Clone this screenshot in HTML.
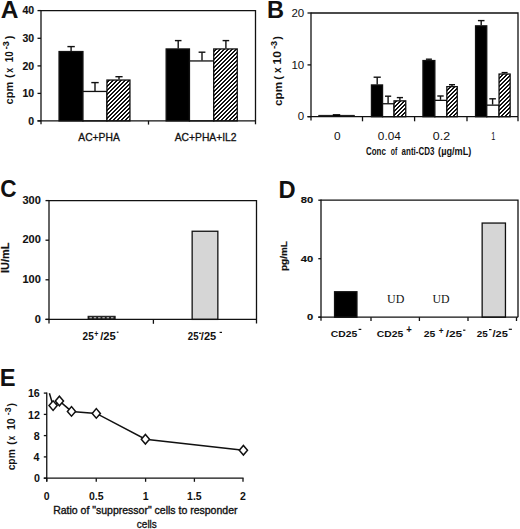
<!DOCTYPE html>
<html><head><meta charset="utf-8"><style>
html,body{margin:0;padding:0;background:#fff;}
svg{display:block;}
text{fill:#111;}
</style></head><body>
<svg width="520" height="529" viewBox="0 0 520 529">
<defs>
<pattern id="hatch" patternUnits="userSpaceOnUse" x="0" y="0" width="4" height="4"><rect width="4" height="4" fill="#fff"/><rect x="0" y="0" width="1" height="1" fill="#111"/><rect x="1" y="0" width="1" height="1" fill="#111"/><rect x="3" y="1" width="1" height="1" fill="#111"/><rect x="0" y="1" width="1" height="1" fill="#111"/><rect x="2" y="2" width="1" height="1" fill="#111"/><rect x="3" y="2" width="1" height="1" fill="#111"/><rect x="1" y="3" width="1" height="1" fill="#111"/><rect x="2" y="3" width="1" height="1" fill="#111"/></pattern>
</defs>
<rect width="520" height="529" fill="#fff"/>
<text x="0.64" y="18.35" font-family="Liberation Sans" font-size="24.5" font-weight="bold">A</text>
<rect x="59.05" y="51.55" width="23.90" height="69.35" fill="#000" stroke="#111" stroke-width="1.3"/>
<line x1="71.1" y1="51" x2="71.1" y2="46.6" stroke="#111" stroke-width="1.4"/>
<line x1="67.39999999999999" y1="46.6" x2="74.8" y2="46.6" stroke="#111" stroke-width="1.4"/>
<rect x="82.95" y="91.45" width="24.00" height="29.45" fill="#fff" stroke="#111" stroke-width="1.3"/>
<line x1="95" y1="90.9" x2="95" y2="82.6" stroke="#111" stroke-width="1.4"/>
<line x1="91.3" y1="82.6" x2="98.7" y2="82.6" stroke="#111" stroke-width="1.4"/>
<rect x="106.95" y="80.05" width="23.00" height="40.85" fill="url(#hatch)" stroke="#111" stroke-width="1.3"/>
<line x1="119" y1="79.5" x2="119" y2="76.7" stroke="#111" stroke-width="1.4"/>
<line x1="115.4" y1="76.7" x2="122.6" y2="76.7" stroke="#111" stroke-width="1.4"/>
<rect x="166.15" y="48.949999999999996" width="23.30" height="71.95" fill="#000" stroke="#111" stroke-width="1.3"/>
<line x1="178.2" y1="48.4" x2="178.2" y2="40.6" stroke="#111" stroke-width="1.4"/>
<line x1="174.89999999999998" y1="40.6" x2="181.5" y2="40.6" stroke="#111" stroke-width="1.4"/>
<rect x="189.45" y="60.949999999999996" width="24.30" height="59.95" fill="#fff" stroke="#111" stroke-width="1.3"/>
<line x1="202" y1="60.4" x2="202" y2="52.2" stroke="#111" stroke-width="1.4"/>
<line x1="198.6" y1="52.2" x2="205.4" y2="52.2" stroke="#111" stroke-width="1.4"/>
<rect x="213.75" y="48.949999999999996" width="23.50" height="71.95" fill="url(#hatch)" stroke="#111" stroke-width="1.3"/>
<line x1="225.9" y1="48.4" x2="225.9" y2="40.6" stroke="#111" stroke-width="1.4"/>
<line x1="222.6" y1="40.6" x2="229.20000000000002" y2="40.6" stroke="#111" stroke-width="1.4"/>
<path d="M41 10.6H255.5V120.9" fill="none" stroke="#111" stroke-width="1.3"/>
<line x1="41" y1="10.0" x2="41" y2="124.3" stroke="#111" stroke-width="1.3"/>
<line x1="37.5" y1="120.9" x2="255.5" y2="120.9" stroke="#111" stroke-width="1.3"/>
<line x1="37.5" y1="10.6" x2="41" y2="10.6" stroke="#111" stroke-width="1.3"/>
<text x="22.41" y="14.22" font-family="Liberation Sans" font-size="10.5" font-weight="bold" stroke="#111" stroke-width="0.15">40</text>
<line x1="37.5" y1="38.3" x2="41" y2="38.3" stroke="#111" stroke-width="1.3"/>
<text x="22.41" y="41.92" font-family="Liberation Sans" font-size="10.5" font-weight="bold" stroke="#111" stroke-width="0.15">30</text>
<line x1="37.5" y1="65.9" x2="41" y2="65.9" stroke="#111" stroke-width="1.3"/>
<text x="22.41" y="69.52" font-family="Liberation Sans" font-size="10.5" font-weight="bold" stroke="#111" stroke-width="0.15">20</text>
<line x1="37.5" y1="93.4" x2="41" y2="93.4" stroke="#111" stroke-width="1.3"/>
<text x="22.41" y="97.02" font-family="Liberation Sans" font-size="10.5" font-weight="bold" stroke="#111" stroke-width="0.15">10</text>
<line x1="37.5" y1="120.9" x2="41" y2="120.9" stroke="#111" stroke-width="1.3"/>
<text x="28.24" y="124.52" font-family="Liberation Sans" font-size="10.5" font-weight="bold" stroke="#111" stroke-width="0.15">0</text>
<line x1="148.5" y1="120.9" x2="148.5" y2="124.6" stroke="#111" stroke-width="1.3"/>
<line x1="255.5" y1="120.9" x2="255.5" y2="124.3" stroke="#111" stroke-width="1.3"/>
<text x="78.30" y="141.2" font-family="Liberation Sans" font-size="10.5" font-weight="normal" textLength="41.45" lengthAdjust="spacingAndGlyphs" stroke="#111" stroke-width="0.3">AC+PHA</text>
<text x="174.70" y="141.2" font-family="Liberation Sans" font-size="10.5" font-weight="normal" textLength="61.85" lengthAdjust="spacingAndGlyphs" stroke="#111" stroke-width="0.3">AC+PHA+IL2</text>
<text transform="translate(13.4,104.40) rotate(-90)" x="0" y="0" font-family="Liberation Sans" font-size="11" font-weight="bold">cpm</text>
<text transform="translate(13.4,77.89) rotate(-90)" x="0" y="0" font-family="Liberation Sans" font-size="11" font-weight="bold">(</text>
<text transform="translate(13.3,72.64) rotate(-90)" x="0" y="0" font-family="Liberation Sans" font-size="11" font-weight="bold" textLength="4.84" lengthAdjust="spacingAndGlyphs">x</text>
<text transform="translate(13.2,62.24) rotate(-90)" x="0" y="0" font-family="Liberation Sans" font-size="11" font-weight="bold" textLength="10.90" lengthAdjust="spacingAndGlyphs">10</text>
<text transform="translate(8.6,49.26) rotate(-90)" x="0" y="0" font-family="Liberation Sans" font-size="9.5" font-weight="bold" textLength="7.96" lengthAdjust="spacingAndGlyphs" stroke="#111" stroke-width="0.1">-3</text>
<text transform="translate(13.3,39.17) rotate(-90)" x="0" y="0" font-family="Liberation Sans" font-size="11" font-weight="bold">)</text>
<text x="266.92" y="18.35" font-family="Liberation Sans" font-size="24.5" font-weight="bold" textLength="17.05" lengthAdjust="spacingAndGlyphs">B</text>
<rect x="318.7" y="115.2" width="35.80" height="1.50" fill="#000" stroke="#111" stroke-width="0.6"/>
<rect x="333" y="114.2" width="7.00" height="2.50" fill="#000" stroke="#111" stroke-width="0.4"/>
<rect x="371.45" y="84.95" width="11.10" height="31.75" fill="#000" stroke="#111" stroke-width="1.3"/>
<line x1="377.2" y1="84.4" x2="377.2" y2="77.2" stroke="#111" stroke-width="1.4"/>
<line x1="373.59999999999997" y1="77.2" x2="380.8" y2="77.2" stroke="#111" stroke-width="1.4"/>
<rect x="382.55" y="103.75" width="11.50" height="12.95" fill="#fff" stroke="#111" stroke-width="1.3"/>
<line x1="388.1" y1="103.2" x2="388.1" y2="96.2" stroke="#111" stroke-width="1.4"/>
<line x1="385.0" y1="96.2" x2="391.20000000000005" y2="96.2" stroke="#111" stroke-width="1.4"/>
<rect x="394.05" y="100.85" width="11.70" height="15.85" fill="url(#hatch)" stroke="#111" stroke-width="1.3"/>
<line x1="399.9" y1="100.3" x2="399.9" y2="97.6" stroke="#111" stroke-width="1.4"/>
<line x1="396.79999999999995" y1="97.6" x2="403.0" y2="97.6" stroke="#111" stroke-width="1.4"/>
<rect x="422.95" y="60.55" width="11.90" height="56.15" fill="#000" stroke="#111" stroke-width="1.3"/>
<line x1="428.9" y1="60" x2="428.9" y2="59.2" stroke="#111" stroke-width="1.4"/>
<line x1="425.9" y1="59.2" x2="431.9" y2="59.2" stroke="#111" stroke-width="1.4"/>
<rect x="434.84999999999997" y="100.35" width="12.00" height="16.35" fill="#fff" stroke="#111" stroke-width="1.3"/>
<line x1="440.5" y1="99.8" x2="440.5" y2="96" stroke="#111" stroke-width="1.4"/>
<line x1="437.3" y1="96" x2="443.7" y2="96" stroke="#111" stroke-width="1.4"/>
<rect x="446.85" y="86.64999999999999" width="10.40" height="30.05" fill="url(#hatch)" stroke="#111" stroke-width="1.3"/>
<line x1="452" y1="86.1" x2="452" y2="84.7" stroke="#111" stroke-width="1.4"/>
<line x1="449.0" y1="84.7" x2="455.0" y2="84.7" stroke="#111" stroke-width="1.4"/>
<rect x="475.55" y="25.85" width="11.20" height="90.85" fill="#000" stroke="#111" stroke-width="1.3"/>
<line x1="481.2" y1="25.3" x2="481.2" y2="20.6" stroke="#111" stroke-width="1.4"/>
<line x1="477.9" y1="20.6" x2="484.5" y2="20.6" stroke="#111" stroke-width="1.4"/>
<rect x="486.75" y="105.14999999999999" width="12.30" height="11.55" fill="#fff" stroke="#111" stroke-width="1.3"/>
<line x1="492.6" y1="104.6" x2="492.6" y2="98.8" stroke="#111" stroke-width="1.4"/>
<line x1="489.3" y1="98.8" x2="495.90000000000003" y2="98.8" stroke="#111" stroke-width="1.4"/>
<rect x="499.05" y="74.05" width="11.10" height="42.65" fill="url(#hatch)" stroke="#111" stroke-width="1.3"/>
<line x1="504.6" y1="73.5" x2="504.6" y2="72.6" stroke="#111" stroke-width="1.4"/>
<line x1="501.6" y1="72.6" x2="507.6" y2="72.6" stroke="#111" stroke-width="1.4"/>
<path d="M311 13H518V116.7" fill="none" stroke="#111" stroke-width="1.3"/>
<line x1="311" y1="12.4" x2="311" y2="120.5" stroke="#111" stroke-width="1.3"/>
<line x1="307.5" y1="116.7" x2="518" y2="116.7" stroke="#111" stroke-width="1.3"/>
<line x1="307.5" y1="13" x2="311" y2="13" stroke="#111" stroke-width="1.3"/>
<text x="291.39" y="16.67" font-family="Liberation Sans" font-size="11.5" font-weight="normal">20</text>
<line x1="307.5" y1="64.9" x2="311" y2="64.9" stroke="#111" stroke-width="1.3"/>
<text x="291.39" y="68.57" font-family="Liberation Sans" font-size="11.5" font-weight="normal">10</text>
<line x1="307.5" y1="116.7" x2="311" y2="116.7" stroke="#111" stroke-width="1.3"/>
<text x="297.77" y="120.37" font-family="Liberation Sans" font-size="11.5" font-weight="normal">0</text>
<line x1="362.5" y1="116.7" x2="362.5" y2="121.3" stroke="#111" stroke-width="1.3"/>
<line x1="414.6" y1="116.7" x2="414.6" y2="121.3" stroke="#111" stroke-width="1.3"/>
<line x1="467" y1="116.7" x2="467" y2="121.3" stroke="#111" stroke-width="1.3"/>
<line x1="518" y1="116.7" x2="518" y2="121.3" stroke="#111" stroke-width="1.3"/>
<text x="334.07" y="140" font-family="Liberation Sans" font-size="10" font-weight="normal" textLength="6.60" lengthAdjust="spacingAndGlyphs">0</text>
<text x="377.88" y="140" font-family="Liberation Sans" font-size="10" font-weight="normal" textLength="22.94" lengthAdjust="spacingAndGlyphs">0.04</text>
<text x="432.85" y="140" font-family="Liberation Sans" font-size="10" font-weight="normal" textLength="17.22" lengthAdjust="spacingAndGlyphs">0.2</text>
<text x="491.30" y="140" font-family="Liberation Sans" font-size="10" font-weight="normal" textLength="4.09" lengthAdjust="spacingAndGlyphs">1</text>
<text x="366.03" y="154.5" font-family="Liberation Sans" font-size="10.5" font-weight="bold" textLength="19.86" lengthAdjust="spacingAndGlyphs">Conc</text>
<text x="390.78" y="154.5" font-family="Liberation Sans" font-size="10.5" font-weight="bold" textLength="6.47" lengthAdjust="spacingAndGlyphs">of</text>
<text x="401.61" y="154.5" font-family="Liberation Sans" font-size="10.5" font-weight="bold" textLength="32.73" lengthAdjust="spacingAndGlyphs">anti-CD3</text>
<text x="438.09" y="154.5" font-family="Liberation Sans" font-size="10.5" font-weight="bold" textLength="33.28" lengthAdjust="spacingAndGlyphs">(µg/mL)</text>
<text transform="translate(281.9,105.92) rotate(-90)" x="0" y="0" font-family="Liberation Sans" font-size="11.3" font-weight="bold" textLength="23.98" lengthAdjust="spacingAndGlyphs">cpm</text>
<text transform="translate(281.6,79.74) rotate(-90)" x="0" y="0" font-family="Liberation Sans" font-size="11" font-weight="bold">(</text>
<text transform="translate(281.2,72.95) rotate(-90)" x="0" y="0" font-family="Liberation Sans" font-size="11" font-weight="bold" textLength="5.56" lengthAdjust="spacingAndGlyphs">x</text>
<text transform="translate(280.6,64.47) rotate(-90)" x="0" y="0" font-family="Liberation Sans" font-size="11" font-weight="bold" textLength="13.44" lengthAdjust="spacingAndGlyphs">10</text>
<text transform="translate(277.1,48.86) rotate(-90)" x="0" y="0" font-family="Liberation Sans" font-size="9.5" font-weight="bold" textLength="7.96" lengthAdjust="spacingAndGlyphs" stroke="#111" stroke-width="0.1">-3</text>
<text transform="translate(281.2,39.67) rotate(-90)" x="0" y="0" font-family="Liberation Sans" font-size="11" font-weight="bold">)</text>
<text x="0.35" y="197.2" font-family="Liberation Sans" font-size="24.5" font-weight="bold" textLength="16.32" lengthAdjust="spacingAndGlyphs">C</text>
<rect x="88" y="316.2" width="27.20" height="3.20" fill="#222" stroke="#111" stroke-width="0.8"/>
<rect x="89.5" y="317.3" width="2.4" height="1" fill="#ddd"/>
<rect x="93.8" y="317.3" width="2.4" height="1" fill="#ddd"/>
<rect x="98.1" y="317.3" width="2.4" height="1" fill="#ddd"/>
<rect x="102.4" y="317.3" width="2.4" height="1" fill="#ddd"/>
<rect x="106.7" y="317.3" width="2.4" height="1" fill="#ddd"/>
<rect x="111.0" y="317.3" width="2.4" height="1" fill="#ddd"/>
<rect x="192.15" y="231.25" width="25.70" height="88.15" fill="#d6d6d6" stroke="#111" stroke-width="1.3"/>
<path d="M49 200.6H256.5V323.4" fill="none" stroke="#111" stroke-width="1.3"/>
<line x1="49" y1="200.0" x2="49" y2="323.5" stroke="#111" stroke-width="1.3"/>
<line x1="45.5" y1="319.4" x2="256.5" y2="319.4" stroke="#111" stroke-width="1.3"/>
<line x1="45.5" y1="200.6" x2="49" y2="200.6" stroke="#111" stroke-width="1.3"/>
<text x="22.49" y="203.79" font-family="Liberation Sans" font-size="10.4" font-weight="bold" textLength="18.39" lengthAdjust="spacingAndGlyphs" stroke="#111" stroke-width="0.1">300</text>
<line x1="45.5" y1="240.2" x2="49" y2="240.2" stroke="#111" stroke-width="1.3"/>
<text x="22.49" y="243.39" font-family="Liberation Sans" font-size="10.4" font-weight="bold" textLength="18.39" lengthAdjust="spacingAndGlyphs" stroke="#111" stroke-width="0.1">200</text>
<line x1="45.5" y1="279.8" x2="49" y2="279.8" stroke="#111" stroke-width="1.3"/>
<text x="22.49" y="282.99" font-family="Liberation Sans" font-size="10.4" font-weight="bold" textLength="18.39" lengthAdjust="spacingAndGlyphs" stroke="#111" stroke-width="0.1">100</text>
<line x1="45.5" y1="319.4" x2="49" y2="319.4" stroke="#111" stroke-width="1.3"/>
<text x="34.72" y="322.59" font-family="Liberation Sans" font-size="10.4" font-weight="bold" textLength="6.13" lengthAdjust="spacingAndGlyphs" stroke="#111" stroke-width="0.1">0</text>
<line x1="153.4" y1="319.4" x2="153.4" y2="323.8" stroke="#111" stroke-width="1.3"/>
<text x="82.60" y="340.04" font-family="Liberation Sans" font-size="10.56" font-weight="bold" textLength="11.12" lengthAdjust="spacingAndGlyphs">25</text>
<text x="94.36" y="336.57" font-family="Liberation Sans" font-size="9.61" font-weight="bold" textLength="4.16" lengthAdjust="spacingAndGlyphs">+</text>
<text x="100.24" y="340.04" font-family="Liberation Sans" font-size="10.56" font-weight="bold" textLength="15.59" lengthAdjust="spacingAndGlyphs">/25</text>
<line x1="116.8" y1="332.2" x2="118.5" y2="332.2" stroke="#111" stroke-width="1.2"/>
<text x="187.81" y="340.05" font-family="Liberation Sans" font-size="10.0" font-weight="bold" textLength="10.70" lengthAdjust="spacingAndGlyphs">25</text>
<line x1="199" y1="333.3" x2="201.4" y2="333.3" stroke="#111" stroke-width="1.2"/>
<text x="200.84" y="340.05" font-family="Liberation Sans" font-size="10.0" font-weight="bold" textLength="15.39" lengthAdjust="spacingAndGlyphs">/25</text>
<line x1="219.6" y1="332.4" x2="222.0" y2="332.4" stroke="#111" stroke-width="1.2"/>
<text transform="translate(9.04,273.06) rotate(-90)" x="0" y="0" font-family="Liberation Sans" font-size="10.6" font-weight="bold" textLength="30.47" lengthAdjust="spacingAndGlyphs" stroke="#111" stroke-width="0.2">IU/mL</text>
<text x="278.41" y="197.55" font-family="Liberation Sans" font-size="24.5" font-weight="bold" textLength="17.14" lengthAdjust="spacingAndGlyphs">D</text>
<rect x="334.55" y="291.75" width="22.40" height="25.45" fill="#000" stroke="#111" stroke-width="1.3"/>
<rect x="482.15000000000003" y="223.05" width="23.30" height="94.15" fill="#d6d6d6" stroke="#111" stroke-width="1.3"/>
<path d="M321 200.2H518V317.2" fill="none" stroke="#111" stroke-width="1.3"/>
<line x1="321" y1="199.6" x2="321" y2="320.7" stroke="#111" stroke-width="1.3"/>
<line x1="318.3" y1="317.2" x2="518" y2="317.2" stroke="#111" stroke-width="1.3"/>
<line x1="318.3" y1="200.2" x2="321" y2="200.2" stroke="#111" stroke-width="1.3"/>
<text x="300.88" y="203.14" font-family="Liberation Sans" font-size="9.4" font-weight="bold" textLength="12.44" lengthAdjust="spacingAndGlyphs" stroke="#111" stroke-width="0.15">80</text>
<line x1="318.3" y1="258.7" x2="321" y2="258.7" stroke="#111" stroke-width="1.3"/>
<text x="300.88" y="261.64" font-family="Liberation Sans" font-size="9.4" font-weight="bold" textLength="12.44" lengthAdjust="spacingAndGlyphs" stroke="#111" stroke-width="0.15">40</text>
<line x1="318.3" y1="317.2" x2="321" y2="317.2" stroke="#111" stroke-width="1.3"/>
<text x="307.09" y="320.14" font-family="Liberation Sans" font-size="9.4" font-weight="bold" textLength="6.22" lengthAdjust="spacingAndGlyphs" stroke="#111" stroke-width="0.15">0</text>
<line x1="371" y1="317.2" x2="371" y2="321" stroke="#111" stroke-width="1.3"/>
<line x1="419.4" y1="317.2" x2="419.4" y2="321" stroke="#111" stroke-width="1.3"/>
<line x1="468" y1="317.2" x2="468" y2="321" stroke="#111" stroke-width="1.3"/>
<line x1="516.5" y1="317.2" x2="516.5" y2="321" stroke="#111" stroke-width="1.3"/>
<text x="387.01" y="302.83" font-family="Liberation Serif" font-size="12.48" font-weight="normal" textLength="17.31" lengthAdjust="spacingAndGlyphs">UD</text>
<text x="432.51" y="302.73" font-family="Liberation Serif" font-size="12.33" font-weight="normal" textLength="17.10" lengthAdjust="spacingAndGlyphs">UD</text>
<text x="330.84" y="336.76" font-family="Liberation Sans" font-size="9.44" font-weight="bold" textLength="26.39" lengthAdjust="spacingAndGlyphs">CD25</text>
<line x1="358.6" y1="329.4" x2="361.3" y2="329.4" stroke="#111" stroke-width="1.2"/>
<text x="376.84" y="336.76" font-family="Liberation Sans" font-size="9.44" font-weight="bold" textLength="26.39" lengthAdjust="spacingAndGlyphs">CD25</text>
<text x="406.17" y="332.86" font-family="Liberation Sans" font-size="10.78" font-weight="bold" textLength="5.55" lengthAdjust="spacingAndGlyphs">+</text>
<text x="423.79" y="336.76" font-family="Liberation Sans" font-size="9.08" font-weight="bold" textLength="11.55" lengthAdjust="spacingAndGlyphs">25</text>
<text x="438.77" y="333.66" font-family="Liberation Sans" font-size="9.41" font-weight="bold" textLength="4.80" lengthAdjust="spacingAndGlyphs">+</text>
<text x="445.73" y="336.76" font-family="Liberation Sans" font-size="9.08" font-weight="bold" textLength="16.52" lengthAdjust="spacingAndGlyphs">/25</text>
<line x1="463.1" y1="330.2" x2="465.4" y2="330.2" stroke="#111" stroke-width="1.2"/>
<text x="476.70" y="336.76" font-family="Liberation Sans" font-size="9.08" font-weight="bold" textLength="11.02" lengthAdjust="spacingAndGlyphs">25</text>
<line x1="489.0" y1="329.6" x2="491.5" y2="329.6" stroke="#111" stroke-width="1.2"/>
<text x="492.54" y="336.76" font-family="Liberation Sans" font-size="9.08" font-weight="bold" textLength="15.39" lengthAdjust="spacingAndGlyphs">/25</text>
<line x1="508.8" y1="329.3" x2="511.9" y2="329.3" stroke="#111" stroke-width="1.2"/>
<text transform="translate(286.81,271.00) rotate(-90)" x="0" y="0" font-family="Liberation Sans" font-size="8.77" font-weight="bold" textLength="29.94" lengthAdjust="spacingAndGlyphs" stroke="#111" stroke-width="0.2">pg/mL</text>
<text x="-0.29" y="386.45" font-family="Liberation Sans" font-size="24.5" font-weight="bold" textLength="15.82" lengthAdjust="spacingAndGlyphs">E</text>
<line x1="46.75" y1="392.5" x2="46.75" y2="481.5" stroke="#111" stroke-width="1.3"/>
<line x1="43.8" y1="478.2" x2="243.6" y2="478.2" stroke="#111" stroke-width="1.3"/>
<line x1="43.8" y1="393.1" x2="46.75" y2="393.1" stroke="#111" stroke-width="1.3"/>
<text x="27.93" y="397.25" font-family="Liberation Sans" font-size="10.3" font-weight="bold" textLength="11.92" lengthAdjust="spacingAndGlyphs">16</text>
<line x1="43.8" y1="414.4" x2="46.75" y2="414.4" stroke="#111" stroke-width="1.3"/>
<text x="27.99" y="418.61" font-family="Liberation Sans" font-size="10.3" font-weight="bold" textLength="11.92" lengthAdjust="spacingAndGlyphs">12</text>
<line x1="43.8" y1="435.6" x2="46.75" y2="435.6" stroke="#111" stroke-width="1.3"/>
<text x="33.83" y="439.75" font-family="Liberation Sans" font-size="10.3" font-weight="bold" textLength="5.96" lengthAdjust="spacingAndGlyphs">8</text>
<line x1="43.8" y1="456.9" x2="46.75" y2="456.9" stroke="#111" stroke-width="1.3"/>
<text x="33.56" y="461.05" font-family="Liberation Sans" font-size="10.3" font-weight="bold" textLength="5.96" lengthAdjust="spacingAndGlyphs">4</text>
<line x1="43.8" y1="478.2" x2="46.75" y2="478.2" stroke="#111" stroke-width="1.3"/>
<text x="33.93" y="482.35" font-family="Liberation Sans" font-size="10.3" font-weight="bold" textLength="5.96" lengthAdjust="spacingAndGlyphs">0</text>
<line x1="46.75" y1="478.2" x2="46.75" y2="481.8" stroke="#111" stroke-width="1.3"/>
<text x="46.75" y="500.2" font-family="Liberation Sans" font-size="10.5" font-weight="bold" text-anchor="middle" >0</text>
<line x1="96.25" y1="478.2" x2="96.25" y2="481.8" stroke="#111" stroke-width="1.3"/>
<text x="96.25" y="500.2" font-family="Liberation Sans" font-size="10.5" font-weight="bold" text-anchor="middle" >0.5</text>
<line x1="145.6" y1="478.2" x2="145.6" y2="481.8" stroke="#111" stroke-width="1.3"/>
<text x="145.6" y="500.2" font-family="Liberation Sans" font-size="10.5" font-weight="bold" text-anchor="middle" >1</text>
<line x1="194.4" y1="478.2" x2="194.4" y2="481.8" stroke="#111" stroke-width="1.3"/>
<text x="194.4" y="500.2" font-family="Liberation Sans" font-size="10.5" font-weight="bold" text-anchor="middle" >1.5</text>
<line x1="243" y1="478.2" x2="243" y2="481.8" stroke="#111" stroke-width="1.3"/>
<text x="243" y="500.2" font-family="Liberation Sans" font-size="10.5" font-weight="bold" text-anchor="middle" >2</text>
<path d="M49.4 393.3 L53.1 405.6 L59.4 401 L71.5 411.4 L96.3 413.4 L145.4 439.2 L243.4 450.2" fill="none" stroke="#111" stroke-width="1.5"/>
<path d="M49.0 405.6L53.1 400.8L57.2 405.6L53.1 410.40000000000003Z" fill="#fff" stroke="#111" stroke-width="1.5"/>
<path d="M55.3 401L59.4 396.2L63.5 401L59.4 405.8Z" fill="#fff" stroke="#111" stroke-width="1.5"/>
<path d="M67.4 411.4L71.5 406.59999999999997L75.6 411.4L71.5 416.2Z" fill="#fff" stroke="#111" stroke-width="1.5"/>
<path d="M92.2 413.4L96.3 408.59999999999997L100.39999999999999 413.4L96.3 418.2Z" fill="#fff" stroke="#111" stroke-width="1.5"/>
<path d="M141.3 439.2L145.4 434.4L149.5 439.2L145.4 444.0Z" fill="#fff" stroke="#111" stroke-width="1.5"/>
<path d="M239.3 450.2L243.4 445.4L247.5 450.2L243.4 455.0Z" fill="#fff" stroke="#111" stroke-width="1.5"/>
<text x="53.18" y="513.8" font-family="Liberation Sans" font-size="10.5" font-weight="normal" stroke="#111" stroke-width="0.35">Ratio of &quot;suppressor&quot; cells to responder</text>
<text x="136.85" y="527.9" font-family="Liberation Sans" font-size="10.5" font-weight="normal" textLength="20.01" lengthAdjust="spacingAndGlyphs" stroke="#111" stroke-width="0.3">cells</text>
<text transform="translate(15.1,470.36) rotate(-90)" x="0" y="0" font-family="Liberation Sans" font-size="10.3" font-weight="bold">cpm</text>
<text transform="translate(15.0,444.86) rotate(-90)" x="0" y="0" font-family="Liberation Sans" font-size="10.3" font-weight="bold">(</text>
<text transform="translate(15.0,440.13) rotate(-90)" x="0" y="0" font-family="Liberation Sans" font-size="10.3" font-weight="bold" textLength="4.43" lengthAdjust="spacingAndGlyphs">x</text>
<text transform="translate(15.0,430.09) rotate(-90)" x="0" y="0" font-family="Liberation Sans" font-size="10.3" font-weight="bold" textLength="11.78" lengthAdjust="spacingAndGlyphs">10</text>
<text transform="translate(10.6,415.30) rotate(-90)" x="0" y="0" font-family="Liberation Sans" font-size="8.8" font-weight="bold">-3</text>
<text transform="translate(15.0,406.47) rotate(-90)" x="0" y="0" font-family="Liberation Sans" font-size="10.3" font-weight="bold">)</text>
</svg>
</body></html>
